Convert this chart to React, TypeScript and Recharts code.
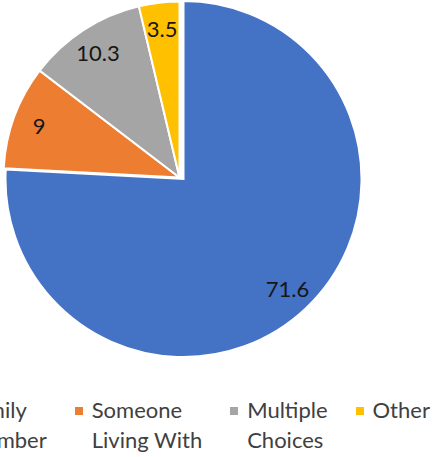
import { PieChart, Pie, Cell, Legend } from "recharts";

const categories = ["Family Member", "Someone Living With", "Multiple Choices", "Other"];
const legendLines = [["Family", "Member"], ["Someone", "Living With"], ["Multiple", "Choices"], ["Other"]];
const shares = [71.6, 9, 10.3, 3.5];
const colors = ["#4472C4", "#ED7D31", "#A5A5A5", "#FFC000"];

const data = categories.map((name, i) => ({ name, value: shares[i] }));

const RAD = Math.PI / 180;
const font = "Lato, 'Open Sans', sans-serif";

function makeLabel(show: (i: number) => boolean) {
  return (p: any) => {
    if (!show(p.index)) return null;
    const r = p.outerRadius * 0.85;
    const x = p.cx + r * Math.cos(-p.midAngle * RAD);
    const y = p.cy + r * Math.sin(-p.midAngle * RAD);
    return (
      <text x={x} y={y} textAnchor="middle" dominantBaseline="central" fill="#161616" fontSize={22} fontFamily={font}>
        {p.value}
      </text>
    );
  };
}

function LegendBox() {
  return (
    <div style={{ display: "flex", gap: 28, fontFamily: font, fontSize: 22, lineHeight: "30px", color: "#404040" }}>
      {categories.map((c, i) => (
        <div key={c} style={{ display: "flex", alignItems: "flex-start" }}>
          <span style={{ width: 8, height: 8, background: colors[i], marginTop: 12, marginRight: 9, flex: "none" }} />
          <div>
            {legendLines[i].map((l) => (
              <div key={l} style={{ whiteSpace: "nowrap" }}>{l}</div>
            ))}
          </div>
        </div>
      ))}
    </div>
  );
}

export default function App() {
  return (
    <div style={{ position: "absolute", left: 0, top: 0, width: 433, height: 457, background: "#fff", overflow: "hidden" }}>
      <PieChart width={433} height={457} margin={{ top: 0, right: 0, bottom: 0, left: 0 }}>
        {/* small slices */}
        <Pie
          data={data}
          dataKey="value"
          cx={179.5}
          cy={177.5}
          outerRadius={176}
          startAngle={90}
          endAngle={-270}
          stroke="#fff"
          strokeWidth={2}
          labelLine={false}
          label={makeLabel((i) => i > 0)}
          isAnimationActive={false}
        >
          {data.map((d, i) => (
            <Cell key={d.name} fill={i === 0 ? "transparent" : colors[i]} stroke={i === 0 ? "none" : "#fff"} />
          ))}
        </Pie>
        {/* exploded blue slice */}
        <Pie
          data={data}
          dataKey="value"
          cx={183.5}
          cy={179}
          outerRadius={178}
          startAngle={90}
          endAngle={-270}
          stroke="#fff"
          strokeWidth={2}
          labelLine={false}
          label={makeLabel((i) => i === 0)}
          isAnimationActive={false}
        >
          {data.map((d, i) => (
            <Cell key={d.name} fill={i === 0 ? colors[0] : "transparent"} stroke={i === 0 ? "#fff" : "none"} />
          ))}
        </Pie>
        <Legend content={() => <LegendBox />} wrapperStyle={{ position: "absolute", left: -52, top: 395, width: "auto" }} />
      </PieChart>
    </div>
  );
}
